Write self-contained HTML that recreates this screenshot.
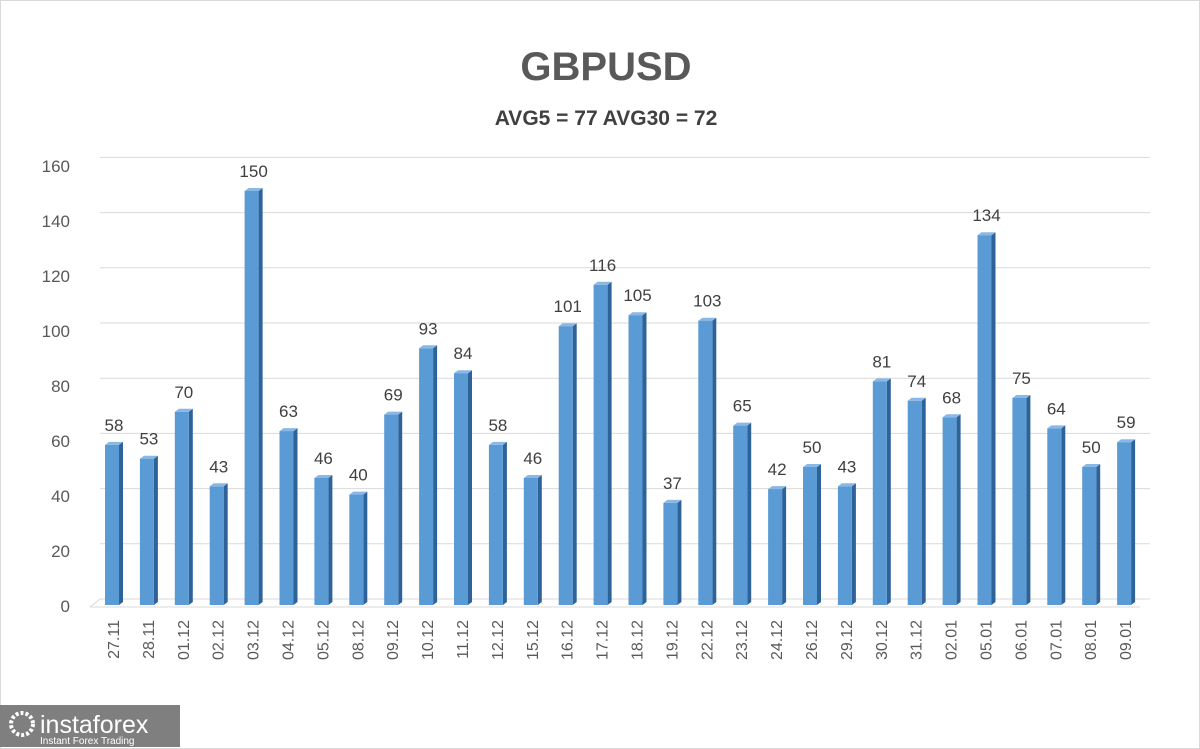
<!DOCTYPE html>
<html><head><style>
body{margin:0;background:#fff;}
svg{display:block;font-family:"Liberation Sans",sans-serif;}
.s{fill:#2e6399}.t{fill:#8ab8e6}.f{fill:#5b9bd5}
.v{font-size:17px;fill:#404040;text-anchor:middle}
.c{font-size:16px;fill:#595959;text-anchor:end}
</style></head><body>
<svg width="1200" height="749" viewBox="0 0 1200 749">
<rect x="0.5" y="0.5" width="1199" height="748" fill="#fff" stroke="#d9d9d9"/>
<text x="606" y="80" text-anchor="middle" font-size="40" font-weight="bold" fill="#595959">GBPUSD</text>
<text x="606" y="125" text-anchor="middle" font-size="21" font-weight="bold" fill="#404040">AVG5 = 77 AVG30 = 72</text>
<g stroke="#d9d9d9">
<line x1="100" y1="599" x2="1150" y2="599"/><line x1="100" y1="543.8" x2="1150" y2="543.8"/><line x1="100" y1="488.6" x2="1150" y2="488.6"/><line x1="100" y1="433.4" x2="1150" y2="433.4"/><line x1="100" y1="378.2" x2="1150" y2="378.2"/><line x1="100" y1="323" x2="1150" y2="323"/><line x1="100" y1="267.8" x2="1150" y2="267.8"/><line x1="100" y1="212.6" x2="1150" y2="212.6"/><line x1="100" y1="157.4" x2="1150" y2="157.4"/>
<line x1="90" y1="607" x2="100" y2="599"/><line x1="90" y1="607" x2="1140" y2="607"/>
</g>
<g fill="#595959" font-size="17" text-anchor="end">
<text x="70" y="612">0</text><text x="70" y="557">20</text><text x="70" y="502">40</text><text x="70" y="447">60</text><text x="70" y="392">80</text><text x="70" y="337">100</text><text x="70" y="282">120</text><text x="70" y="227">140</text><text x="70" y="172">160</text>
</g>
<g transform="translate(105,444.9)"><path class="s" d="M14,0 l4,-3 v160.1 l-4,3z"/><path class="t" d="M0,0 l4,-3 h14 l-4,3z"/><rect class="f" width="14" height="160.1"/><text class="v" x="9" y="-14">58</text></g>
<g transform="translate(139.9,458.7)"><path class="s" d="M14,0 l4,-3 v146.3 l-4,3z"/><path class="t" d="M0,0 l4,-3 h14 l-4,3z"/><rect class="f" width="14" height="146.3"/><text class="v" x="9" y="-14">53</text></g>
<g transform="translate(174.8,411.8)"><path class="s" d="M14,0 l4,-3 v193.2 l-4,3z"/><path class="t" d="M0,0 l4,-3 h14 l-4,3z"/><rect class="f" width="14" height="193.2"/><text class="v" x="9" y="-14">70</text></g>
<g transform="translate(209.7,486.3)"><path class="s" d="M14,0 l4,-3 v118.7 l-4,3z"/><path class="t" d="M0,0 l4,-3 h14 l-4,3z"/><rect class="f" width="14" height="118.7"/><text class="v" x="9" y="-14">43</text></g>
<g transform="translate(244.6,191)"><path class="s" d="M14,0 l4,-3 v414 l-4,3z"/><path class="t" d="M0,0 l4,-3 h14 l-4,3z"/><rect class="f" width="14" height="414"/><text class="v" x="9" y="-14">150</text></g>
<g transform="translate(279.5,431.1)"><path class="s" d="M14,0 l4,-3 v173.9 l-4,3z"/><path class="t" d="M0,0 l4,-3 h14 l-4,3z"/><rect class="f" width="14" height="173.9"/><text class="v" x="9" y="-14">63</text></g>
<g transform="translate(314.4,478)"><path class="s" d="M14,0 l4,-3 v127 l-4,3z"/><path class="t" d="M0,0 l4,-3 h14 l-4,3z"/><rect class="f" width="14" height="127"/><text class="v" x="9" y="-14">46</text></g>
<g transform="translate(349.3,494.6)"><path class="s" d="M14,0 l4,-3 v110.4 l-4,3z"/><path class="t" d="M0,0 l4,-3 h14 l-4,3z"/><rect class="f" width="14" height="110.4"/><text class="v" x="9" y="-14">40</text></g>
<g transform="translate(384.2,414.6)"><path class="s" d="M14,0 l4,-3 v190.4 l-4,3z"/><path class="t" d="M0,0 l4,-3 h14 l-4,3z"/><rect class="f" width="14" height="190.4"/><text class="v" x="9" y="-14">69</text></g>
<g transform="translate(419.1,348.3)"><path class="s" d="M14,0 l4,-3 v256.7 l-4,3z"/><path class="t" d="M0,0 l4,-3 h14 l-4,3z"/><rect class="f" width="14" height="256.7"/><text class="v" x="9" y="-14">93</text></g>
<g transform="translate(454,373.2)"><path class="s" d="M14,0 l4,-3 v231.8 l-4,3z"/><path class="t" d="M0,0 l4,-3 h14 l-4,3z"/><rect class="f" width="14" height="231.8"/><text class="v" x="9" y="-14">84</text></g>
<g transform="translate(488.9,444.9)"><path class="s" d="M14,0 l4,-3 v160.1 l-4,3z"/><path class="t" d="M0,0 l4,-3 h14 l-4,3z"/><rect class="f" width="14" height="160.1"/><text class="v" x="9" y="-14">58</text></g>
<g transform="translate(523.8,478)"><path class="s" d="M14,0 l4,-3 v127 l-4,3z"/><path class="t" d="M0,0 l4,-3 h14 l-4,3z"/><rect class="f" width="14" height="127"/><text class="v" x="9" y="-14">46</text></g>
<g transform="translate(558.7,326.2)"><path class="s" d="M14,0 l4,-3 v278.8 l-4,3z"/><path class="t" d="M0,0 l4,-3 h14 l-4,3z"/><rect class="f" width="14" height="278.8"/><text class="v" x="9" y="-14">101</text></g>
<g transform="translate(593.6,284.8)"><path class="s" d="M14,0 l4,-3 v320.2 l-4,3z"/><path class="t" d="M0,0 l4,-3 h14 l-4,3z"/><rect class="f" width="14" height="320.2"/><text class="v" x="9" y="-14">116</text></g>
<g transform="translate(628.5,315.2)"><path class="s" d="M14,0 l4,-3 v289.8 l-4,3z"/><path class="t" d="M0,0 l4,-3 h14 l-4,3z"/><rect class="f" width="14" height="289.8"/><text class="v" x="9" y="-14">105</text></g>
<g transform="translate(663.4,502.9)"><path class="s" d="M14,0 l4,-3 v102.1 l-4,3z"/><path class="t" d="M0,0 l4,-3 h14 l-4,3z"/><rect class="f" width="14" height="102.1"/><text class="v" x="9" y="-14">37</text></g>
<g transform="translate(698.3,320.7)"><path class="s" d="M14,0 l4,-3 v284.3 l-4,3z"/><path class="t" d="M0,0 l4,-3 h14 l-4,3z"/><rect class="f" width="14" height="284.3"/><text class="v" x="9" y="-14">103</text></g>
<g transform="translate(733.2,425.6)"><path class="s" d="M14,0 l4,-3 v179.4 l-4,3z"/><path class="t" d="M0,0 l4,-3 h14 l-4,3z"/><rect class="f" width="14" height="179.4"/><text class="v" x="9" y="-14">65</text></g>
<g transform="translate(768.1,489.1)"><path class="s" d="M14,0 l4,-3 v115.9 l-4,3z"/><path class="t" d="M0,0 l4,-3 h14 l-4,3z"/><rect class="f" width="14" height="115.9"/><text class="v" x="9" y="-14">42</text></g>
<g transform="translate(803,467)"><path class="s" d="M14,0 l4,-3 v138 l-4,3z"/><path class="t" d="M0,0 l4,-3 h14 l-4,3z"/><rect class="f" width="14" height="138"/><text class="v" x="9" y="-14">50</text></g>
<g transform="translate(837.9,486.3)"><path class="s" d="M14,0 l4,-3 v118.7 l-4,3z"/><path class="t" d="M0,0 l4,-3 h14 l-4,3z"/><rect class="f" width="14" height="118.7"/><text class="v" x="9" y="-14">43</text></g>
<g transform="translate(872.8,381.4)"><path class="s" d="M14,0 l4,-3 v223.6 l-4,3z"/><path class="t" d="M0,0 l4,-3 h14 l-4,3z"/><rect class="f" width="14" height="223.6"/><text class="v" x="9" y="-14">81</text></g>
<g transform="translate(907.7,400.8)"><path class="s" d="M14,0 l4,-3 v204.2 l-4,3z"/><path class="t" d="M0,0 l4,-3 h14 l-4,3z"/><rect class="f" width="14" height="204.2"/><text class="v" x="9" y="-14">74</text></g>
<g transform="translate(942.6,417.3)"><path class="s" d="M14,0 l4,-3 v187.7 l-4,3z"/><path class="t" d="M0,0 l4,-3 h14 l-4,3z"/><rect class="f" width="14" height="187.7"/><text class="v" x="9" y="-14">68</text></g>
<g transform="translate(977.5,235.2)"><path class="s" d="M14,0 l4,-3 v369.8 l-4,3z"/><path class="t" d="M0,0 l4,-3 h14 l-4,3z"/><rect class="f" width="14" height="369.8"/><text class="v" x="9" y="-14">134</text></g>
<g transform="translate(1012.4,398)"><path class="s" d="M14,0 l4,-3 v207 l-4,3z"/><path class="t" d="M0,0 l4,-3 h14 l-4,3z"/><rect class="f" width="14" height="207"/><text class="v" x="9" y="-14">75</text></g>
<g transform="translate(1047.3,428.4)"><path class="s" d="M14,0 l4,-3 v176.6 l-4,3z"/><path class="t" d="M0,0 l4,-3 h14 l-4,3z"/><rect class="f" width="14" height="176.6"/><text class="v" x="9" y="-14">64</text></g>
<g transform="translate(1082.2,467)"><path class="s" d="M14,0 l4,-3 v138 l-4,3z"/><path class="t" d="M0,0 l4,-3 h14 l-4,3z"/><rect class="f" width="14" height="138"/><text class="v" x="9" y="-14">50</text></g>
<g transform="translate(1117.1,442.2)"><path class="s" d="M14,0 l4,-3 v162.8 l-4,3z"/><path class="t" d="M0,0 l4,-3 h14 l-4,3z"/><rect class="f" width="14" height="162.8"/><text class="v" x="9" y="-14">59</text></g>
<g>
<text class="c" transform="translate(119,620) rotate(-90)">27.11</text>
<text class="c" transform="translate(153.9,620) rotate(-90)">28.11</text>
<text class="c" transform="translate(188.8,620) rotate(-90)">01.12</text>
<text class="c" transform="translate(223.7,620) rotate(-90)">02.12</text>
<text class="c" transform="translate(258.6,620) rotate(-90)">03.12</text>
<text class="c" transform="translate(293.5,620) rotate(-90)">04.12</text>
<text class="c" transform="translate(328.4,620) rotate(-90)">05.12</text>
<text class="c" transform="translate(363.3,620) rotate(-90)">08.12</text>
<text class="c" transform="translate(398.2,620) rotate(-90)">09.12</text>
<text class="c" transform="translate(433.1,620) rotate(-90)">10.12</text>
<text class="c" transform="translate(468,620) rotate(-90)">11.12</text>
<text class="c" transform="translate(502.9,620) rotate(-90)">12.12</text>
<text class="c" transform="translate(537.8,620) rotate(-90)">15.12</text>
<text class="c" transform="translate(572.7,620) rotate(-90)">16.12</text>
<text class="c" transform="translate(607.6,620) rotate(-90)">17.12</text>
<text class="c" transform="translate(642.5,620) rotate(-90)">18.12</text>
<text class="c" transform="translate(677.4,620) rotate(-90)">19.12</text>
<text class="c" transform="translate(712.3,620) rotate(-90)">22.12</text>
<text class="c" transform="translate(747.2,620) rotate(-90)">23.12</text>
<text class="c" transform="translate(782.1,620) rotate(-90)">24.12</text>
<text class="c" transform="translate(817,620) rotate(-90)">26.12</text>
<text class="c" transform="translate(851.9,620) rotate(-90)">29.12</text>
<text class="c" transform="translate(886.8,620) rotate(-90)">30.12</text>
<text class="c" transform="translate(921.7,620) rotate(-90)">31.12</text>
<text class="c" transform="translate(956.6,620) rotate(-90)">02.01</text>
<text class="c" transform="translate(991.5,620) rotate(-90)">05.01</text>
<text class="c" transform="translate(1026.4,620) rotate(-90)">06.01</text>
<text class="c" transform="translate(1061.3,620) rotate(-90)">07.01</text>
<text class="c" transform="translate(1096.2,620) rotate(-90)">08.01</text>
<text class="c" transform="translate(1131.1,620) rotate(-90)">09.01</text>
</g>
<rect x="0" y="705" width="180" height="42" fill="#7f7f7f"/>
<circle cx="22" cy="724" r="11" fill="none" stroke="#fff" stroke-width="4" stroke-dasharray="3 2"/>
<text x="40" y="733" font-size="25" fill="#fff">instaforex</text>
<text x="40" y="744" font-size="10" fill="#fff">Instant Forex Trading</text>
</svg>
</body></html>
